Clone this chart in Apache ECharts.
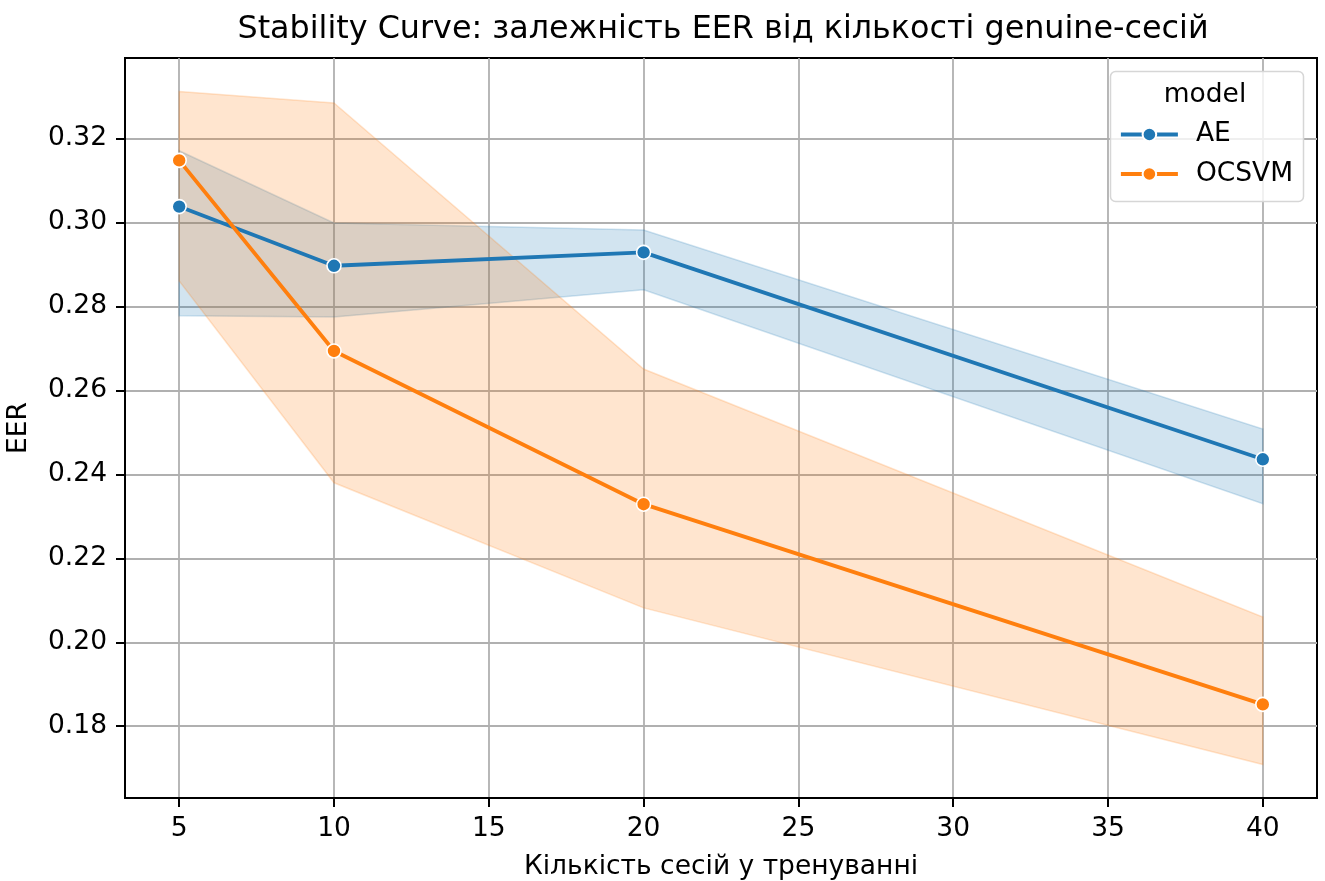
<!DOCTYPE html>
<html>
<head>
<meta charset="utf-8">
<script src="https://cdn.jsdelivr.net/npm/echarts@6/dist/echarts.min.js"></script>
<style>
  html, body { margin: 0; padding: 0; background: #fff; }
  #chart { width: 1325px; height: 881px; }
</style>
</head>
<body>
<div id="chart"></div>
<script>
// Number of genuine sessions used for training
const sessions = [5, 10, 20, 40];

// Mean EER per model and its confidence band
const aeMean  = [0.3038, 0.2897, 0.2929, 0.2436];
const aeLow   = [0.2778, 0.2775, 0.2840, 0.2330];
const aeHigh  = [0.3171, 0.2999, 0.2982, 0.2508];

const ocsvmMean = [0.3148, 0.2694, 0.2329, 0.1852];
const ocsvmLow  = [0.2861, 0.2380, 0.2082, 0.1709];
const ocsvmHigh = [0.3312, 0.3285, 0.2651, 0.2060];

// Tick labels
const xTicks = [5, 10, 15, 20, 25, 30, 35, 40];
const yTicks = [0.18, 0.20, 0.22, 0.24, 0.26, 0.28, 0.30, 0.32];

const FONT = 'DejaVu Sans';
const FS = 26.5;
const BLUE = '#1f77b4';
const ORANGE = '#ff7f0e';

// Shaded confidence band drawn as one polygon through the axis scales
function bandSeries(name, low, high, rgba) {
  return {
    name: name + ' band',
    type: 'custom',
    z: 1,
    silent: true,
    data: [0],
    renderItem: function (params, api) {
      const pts = [];
      for (let i = 0; i < sessions.length; i++) pts.push(api.coord([sessions[i], high[i]]));
      for (let i = sessions.length - 1; i >= 0; i--) pts.push(api.coord([sessions[i], low[i]]));
      return {
        type: 'polygon',
        shape: { points: pts },
        style: { fill: rgba, stroke: rgba, lineWidth: 1.5 }
      };
    }
  };
}

function lineSeries(name, mean, color) {
  return {
    name: name,
    type: 'line',
    z: 3,
    data: sessions.map((s, i) => [s, mean[i]]),
    symbol: 'circle',
    symbolSize: 14,
    showSymbol: true,
    lineStyle: { color: color, width: 3.8 },
    itemStyle: { color: color, borderColor: '#fff', borderWidth: 1.6 },
    emphasis: { disabled: true },
    animation: false
  };
}

const chart = echarts.init(document.getElementById('chart'), null, { renderer: 'canvas' });

chart.setOption({
  animation: false,
  backgroundColor: '#fff',
  textStyle: { fontFamily: FONT },
  title: {
    text: 'Stability Curve: залежність EER від кількості genuine-сесій',
    left: 718,
    top: 9,
    textAlign: 'center',
    textStyle: { fontFamily: FONT, fontSize: 31.8, fontWeight: 'normal', color: '#000' }
  },
  grid: {
    left: 125, right: 8, top: 58, bottom: 83,
    outerBoundsMode: 'none',
    containLabel: false,
    show: true, borderColor: '#000', borderWidth: 2, backgroundColor: 'transparent'
  },
  xAxis: {
    type: 'value',
    min: 3.25, max: 41.75,
    name: 'Кількість сесій у тренуванні',
    nameLocation: 'middle',
    nameGap: 56,
    nameTextStyle: { fontFamily: FONT, fontSize: FS, color: '#000' },
    axisLine: { show: true, onZero: false, lineStyle: { color: '#000', width: 2 } },
    axisTick: { show: true, length: 9, customValues: xTicks, lineStyle: { color: '#000', width: 2 } },
    axisLabel: { customValues: xTicks, fontFamily: FONT, fontSize: FS, color: '#000', margin: 18 },
    splitLine: { show: true, lineStyle: { color: '#b0b0b0', width: 1.8 } }
  },
  yAxis: {
    type: 'value',
    min: 0.1629, max: 0.3392,
    name: 'EER',
    nameLocation: 'middle',
    nameGap: 92,
    nameTextStyle: { fontFamily: FONT, fontSize: FS, color: '#000' },
    axisLine: { show: true, lineStyle: { color: '#000', width: 2 } },
    axisTick: { show: true, length: 9, customValues: yTicks, lineStyle: { color: '#000', width: 2 } },
    axisLabel: { customValues: yTicks, fontFamily: FONT, fontSize: FS, color: '#000', margin: 18,
                 formatter: v => v.toFixed(2) },
    splitLine: { show: true, lineStyle: { color: '#b0b0b0', width: 1.8 } }
  },
  legend: {
    orient: 'vertical',
    left: 1119,
    top: 121,
    padding: 0,
    itemWidth: 57,
    itemHeight: 17,
    itemGap: 12.5,
    z: 30,
    data: ['AE', 'OCSVM'],
    lineStyle: { width: 3.8 },
    textStyle: { fontFamily: FONT, fontSize: FS, color: '#000', padding: [0, 0, 0, 13] }
  },
  graphic: [
    {
      type: 'rect',
      z: 20,
      shape: { x: 1110.5, y: 71.5, width: 193, height: 130, r: 5 },
      style: { fill: 'rgba(255,255,255,0.8)', stroke: '#d6d6d6', lineWidth: 1.5 }
    },
    {
      type: 'text',
      z: 21,
      x: 1205, y: 95,
      style: { text: 'model', font: FS + 'px "DejaVu Sans"', fill: '#000', align: 'center', verticalAlign: 'middle' }
    }
  ],
  series: [
    bandSeries('AE', aeLow, aeHigh, 'rgba(31,119,180,0.2)'),
    lineSeries('AE', aeMean, BLUE),
    bandSeries('OCSVM', ocsvmLow, ocsvmHigh, 'rgba(255,127,14,0.2)'),
    lineSeries('OCSVM', ocsvmMean, ORANGE)
  ]
});
</script>
</body>
</html>
